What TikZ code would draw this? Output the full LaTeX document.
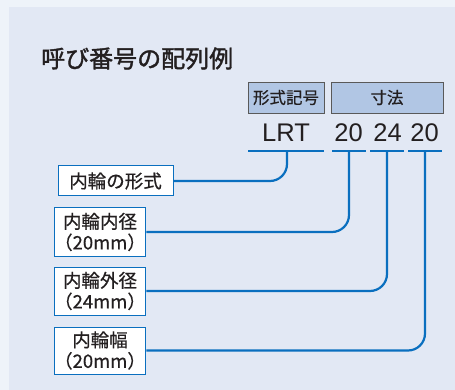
\documentclass[tikz,border=0pt]{standalone}
\usepackage{fontspec}
\setmainfont{Noto Sans CJK JP}[FakeBold=0.6]
\newfontfamily\titlefont{Noto Sans CJK JP}[FakeBold=1.6]
\newfontfamily\latinfont{Liberation Sans}
\definecolor{outerbg}{HTML}{EEF3F9}
\definecolor{panelbg}{HTML}{E2E8F4}
\definecolor{lineblue}{HTML}{0A6FBF}
\definecolor{headfill}{HTML}{B1C6E4}
\definecolor{textdark}{HTML}{231F20}
\begin{document}
\begin{tikzpicture}[x=1pt, y=-1pt,
	conn/.style={lineblue, line width=2.2pt, rounded corners=17pt},
	head/.style={draw=black!65, fill=headfill, line width=0.9pt, inner sep=0pt,
		minimum height=31pt, text=textdark, font=\fontsize{16.5}{18}\selectfont},
	label/.style={draw=lineblue, fill=white, line width=1pt, inner sep=0pt,
		minimum width=84pt, align=center, text=textdark,
		font=\fontsize{18.5}{21}\selectfont},
	code/.style={anchor=base, inner sep=0pt, text=textdark,
		font=\latinfont\fontsize{25.5}{28}\selectfont}]

\useasboundingbox (0, 0) rectangle (455, 390);
\fill[outerbg] (0, 0) rectangle (455, 390);
\fill[panelbg] (9, 7) rectangle (455, 390);

\node[anchor=base west, inner sep=0pt, text=textdark, font=\titlefont\fontsize{24}{26}\selectfont]
	(title) at (41, 67.5) {呼び番号の配列例};

\node[head, minimum width=76pt] (kigo) at (286, 97.5) {形式記号};
\node[head, minimum width=112pt] (sunpo) at (387, 97.5) {寸法};

\node[code] (lrt) at (286, 142) {LRT};
\node[code] (d1) at (348.5, 142) {20};
\node[code] (d2) at (387.5, 142) {24};
\node[code] (d3) at (424.5, 142) {20};

% underlines
\foreach \a/\b in {248/324, 332/366, 370/404, 408/442} {
	\draw[lineblue, line width=2.2pt] (\a, 151) -- (\b, 151);
}
\coordinate (u0) at (287, 151);
\coordinate (u1) at (349, 151);
\coordinate (u2) at (387, 151);
\coordinate (u3) at (425, 151);

\node[label, minimum width=115pt, minimum height=30pt] (type) at (115.5, 181) {内輪の形式};
\node[label, minimum height=48pt] (bore) at (100, 232) {内輪内径\\（20mm）};
\node[label, minimum height=48pt] (outer) at (100, 291) {内輪外径\\（24mm）};
\node[label, minimum height=47pt] (width) at (100, 350.5) {内輪幅\\（20mm）};

\draw[conn] (u0) |- (type.east);
\draw[conn] (u1) |- (bore.east);
\draw[conn] (u2) |- (outer.east);
\draw[conn] (u3) |- (width.east);

\end{tikzpicture}
\end{document}
